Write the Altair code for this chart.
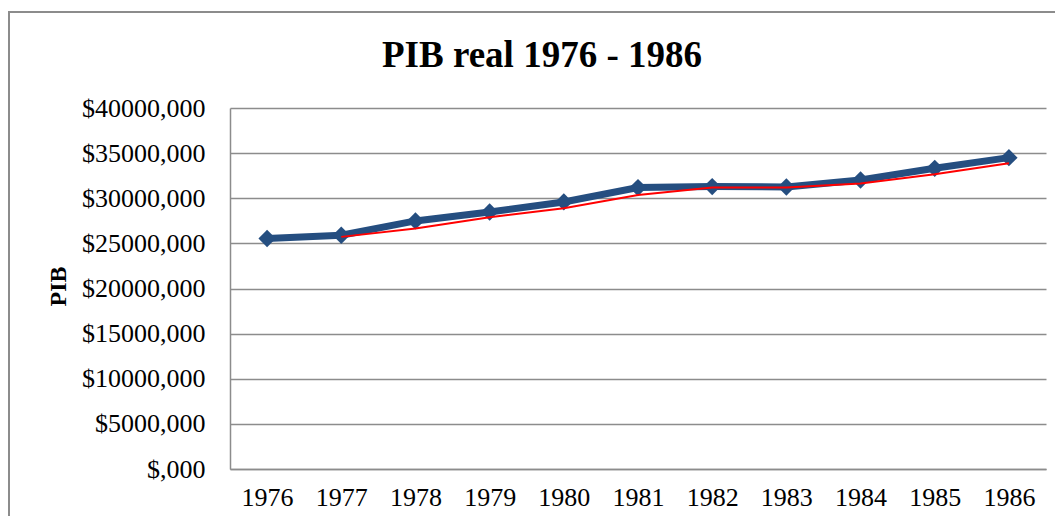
import altair as alt
import pandas as pd

years = ["1976", "1977", "1978", "1979", "1980", "1981", "1982", "1983", "1984", "1985", "1986"]
pib_real = [25540, 25900, 27490, 28480, 29590, 31180, 31290, 31250, 32020, 33320, 34500]
tendencia = [None, 25720, 26650, 27900, 28900, 30370, 31180, 31180, 31630, 32650, 33870]
y_ticks = [0, 5000, 10000, 15000, 20000, 25000, 30000, 35000, 40000]
title_text = "PIB real 1976 - 1986"
y_title = "PIB"

df = pd.DataFrame({"year": years, "pib": pib_real})
df_t = pd.DataFrame({"year": years[1:], "pib": tendencia[1:]})
df_title = pd.DataFrame({"t": [title_text]})

FONT = "Liberation Serif"
GRAY = "#8c8c8c"

x_enc = alt.X(
    "year:O",
    title=None,
    sort=years,
    scale=alt.Scale(padding=0.5),
    axis=alt.Axis(labelAngle=0, ticks=False, domainColor=GRAY, domainWidth=1.5,
                  labelFont=FONT, labelFontSize=26, labelColor="#000000",
                  labelPadding=15, grid=False),
)
y_enc = alt.Y(
    "pib:Q",
    title=y_title,
    scale=alt.Scale(domain=[0, 40000], nice=False, zero=True),
    axis=alt.Axis(values=y_ticks, ticks=False, domainColor=GRAY, domainWidth=1.5,
                  gridColor=GRAY, gridWidth=1.5, grid=True,
                  labelFont=FONT, labelFontSize=26, labelColor="#000000",
                  labelPadding=25,
                  labelExpr="'$' + (datum.value == 0 ? '' : datum.value) + ',000'",
                  titleFont=FONT, titleFontSize=24, titleFontWeight="bold",
                  titleColor="#000000", titleAngle=270, titleAlign="center",
                  titleBaseline="middle", titleX=-172, titleY=178),
)

frame = alt.Chart(df_title).mark_rect(
    fillOpacity=0, stroke=GRAY, strokeWidth=2
).encode(x=alt.value(-221), x2=alt.value(840), y=alt.value(-96), y2=alt.value(430))

blue = alt.Chart(df).mark_line(
    color="#254E80", strokeWidth=7,
    point=alt.OverlayMarkDef(shape="diamond", size=300, color="#254E80", filled=True, opacity=1),
).encode(x=x_enc, y=y_enc)

red = alt.Chart(df_t).mark_line(color="#FF0000", strokeWidth=2).encode(
    x=alt.X("year:O", sort=years), y=alt.Y("pib:Q")
)

title = alt.Chart(df_title).mark_text(
    font=FONT, fontSize=37, fontWeight="bold", color="#000000",
    align="center", baseline="alphabetic"
).encode(x=alt.value(312), y=alt.value(-41), text="t:N")

chart = alt.layer(frame, blue, red, title).properties(
    width=816, height=361,
    autosize=alt.AutoSizeParams(type="none"),
    padding={"left": 222, "top": 100, "right": 9, "bottom": 47},
).configure_view(stroke=None)

chart.save("out.html", embed_options={"renderer": "svg", "actions": False})
